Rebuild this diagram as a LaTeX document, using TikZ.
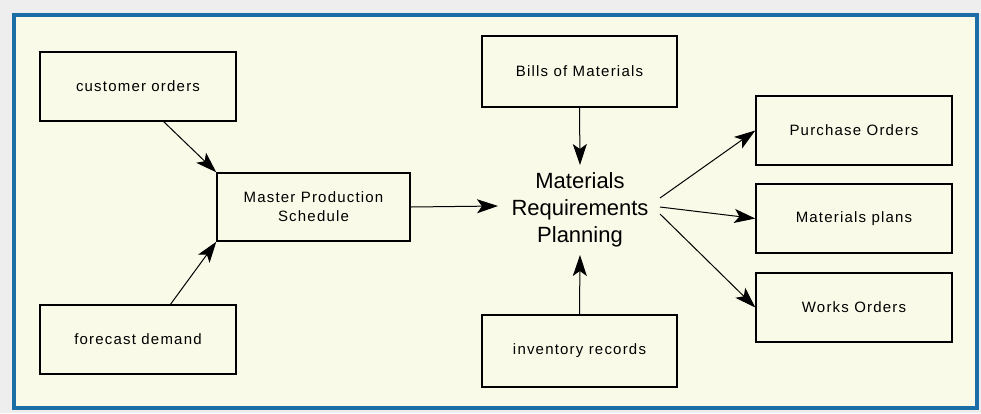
\documentclass[tikz,border=0pt]{standalone}
\usepackage{fontspec}
\setmainfont{Liberation Sans}
\newfontfamily\boxfont[LetterSpace=8]{Liberation Sans}
\usetikzlibrary{arrows.meta}
\definecolor{bggray}{HTML}{EEEEEE}
\definecolor{frameblue}{HTML}{1B6EA6}
\definecolor{cream}{HTML}{FAFAE8}
\tikzset{
  box/.style={draw=black, line width=1.4pt, fill=cream, inner sep=0pt, font=\boxfont\fontsize{15}{17}\selectfont, align=center},
  conn/.style={draw=black, line width=1pt, -{Stealth[length=21pt, width=14pt, inset=5pt]}},
}
\begin{document}
\begin{tikzpicture}[x=1pt, y=-1pt]
\useasboundingbox (0,0) rectangle (981,413);
\fill[bggray] (0,0) rectangle (981,413);
\draw[frameblue, line width=4pt, fill=cream] (14,15) rectangle (977,408);
% boxes
\node[box, minimum width=196pt, minimum height=69pt] (co) at (138,86.5) {customer orders};
\node[box, minimum width=196pt, minimum height=69pt] (fd) at (138,339.5) {forecast demand};
\node[box, minimum width=193pt, minimum height=68pt] (mps) at (313.5,207) {Master Production\\[2pt]Schedule};
\node[box, minimum width=195pt, minimum height=71pt] (bom) at (579.5,71.5) {Bills of Materials};
\node[box, minimum width=195pt, minimum height=72pt] (inv) at (579.5,351) {inventory records};
\node[box, minimum width=196pt, minimum height=69pt] (po) at (854,130.5) {Purchase Orders};
\node[box, minimum width=196pt, minimum height=69pt] (mp) at (854,218.5) {Materials plans};
\node[box, minimum width=196pt, minimum height=69pt] (wo) at (854,307.5) {Works Orders};
\node[font=\fontsize{22}{27}\selectfont, align=center, inner sep=0pt] (mrp) at (580,210) {Materials\\Requirements\\Planning};
% connector anchors
\coordinate (mrpW) at (498,206);
\coordinate (mrpN) at (580,165);
\coordinate (mrpS) at (580,255);
\coordinate (mrpE1) at (660,198);
\coordinate (mrpE2) at (660,207);
\coordinate (mrpE3) at (660,214);
\coordinate (coS) at (163,121);
\coordinate (fdN) at (170,305);
% connectors
\draw[conn] (coS) -- (mps.north west);
\draw[conn] (fdN) -- (mps.south west);
\draw[conn] (mps.east) -- (mrpW);
\draw[conn] (bom.south) -- (mrpN);
\draw[conn] (inv.north) -- (mrpS);
\draw[conn] (mrpE1) -- (po.west);
\draw[conn] (mrpE2) -- (mp.west);
\draw[conn] (mrpE3) -- (wo.west);
\end{tikzpicture}
\end{document}
